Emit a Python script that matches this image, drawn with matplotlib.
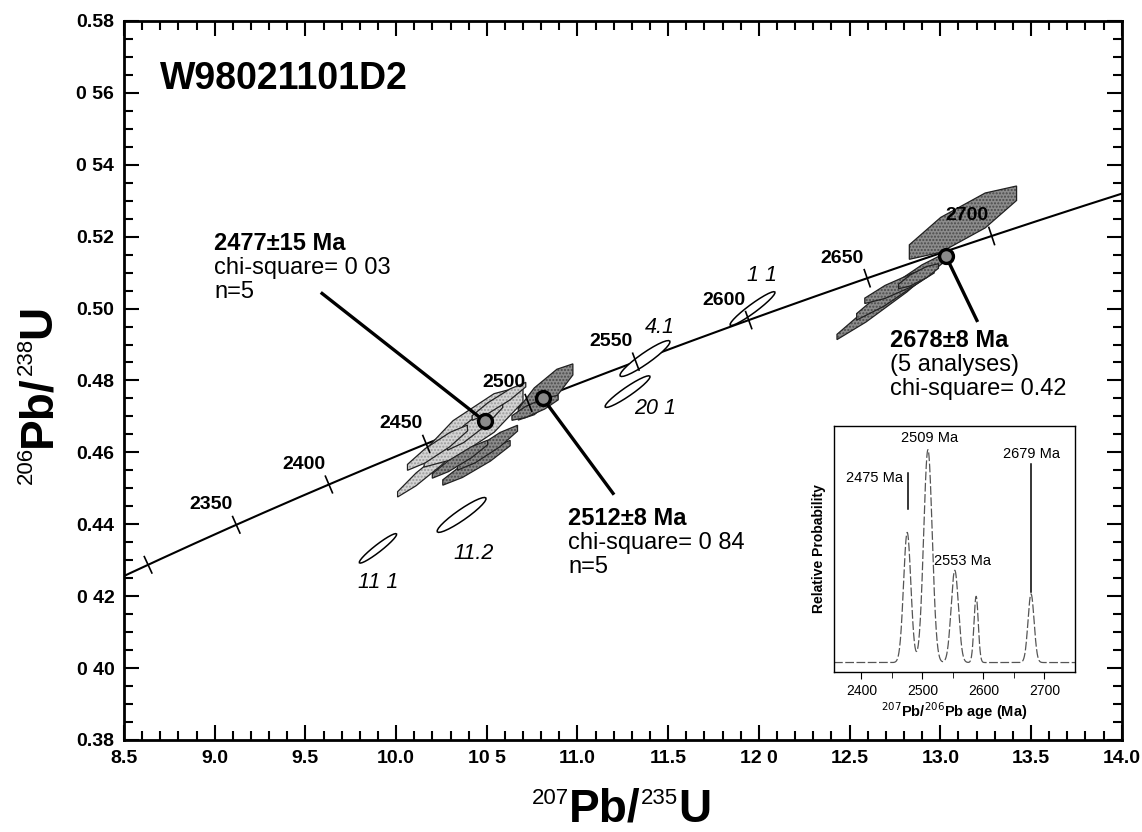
import numpy as np
import matplotlib.pyplot as plt
from matplotlib.patches import Polygon

plt.rcParams['font.family'] = ['Liberation Sans', 'DejaVu Sans']

# decay constants (1/yr)
L235 = 9.8485e-10
L238 = 1.55125e-10

# open (white) analyses: centre, half-range in x and y, error correlation
open_x = [9.900, 10.361, 11.276, 11.372, 11.965]
open_y = [0.4333, 0.4426, 0.4769, 0.4861, 0.5000]
open_sx = [0.103, 0.135, 0.124, 0.138, 0.124]
open_sy = [0.0041, 0.00486, 0.0044, 0.0050, 0.0047]
open_rho = [0.95, 0.93, 0.94, 0.93, 0.95]
open_names = ['11 1', '11.2', '20 1', '4.1', '1 1']
name_x = [9.900, 10.429, 11.427, 11.455, 12.017]
name_y = [0.4239, 0.4319, 0.4722, 0.4947, 0.5092]

# 2477 Ma group (light)
lt_x = [10.181, 10.427, 10.435, 10.567, 10.228]
lt_y = [0.4554, 0.4672, 0.4675, 0.4742, 0.4613]
lt_sx = [0.187, 0.295, 0.165, 0.160, 0.179]
lt_sy = [0.0079, 0.0114, 0.0069, 0.0053, 0.0063]
lt_rho = [0.97, 0.86, 0.93, 0.95, 0.94]

# 2512 Ma group (dark)
dk_x = [10.824, 10.443, 10.504, 10.352, 10.766]
dk_y = [0.4768, 0.4571, 0.4613, 0.4581, 0.4724]
dk_sx = [0.163, 0.201, 0.179, 0.165, 0.138]
dk_sy = [0.0079, 0.00625, 0.00625, 0.0053, 0.0035]
dk_rho = [0.86, 0.95, 0.94, 0.95, 0.88]

# 2678 Ma group (dark)
old_x = [13.125, 12.703, 12.794, 12.775, 12.880]
old_y = [0.5239, 0.5022, 0.5064, 0.5064, 0.5090]
old_sx = [0.320, 0.295, 0.276, 0.207, 0.119]
old_sy = [0.0103, 0.0111, 0.0097, 0.0050, 0.0035]
old_rho = [0.86, 0.985, 0.97, 0.92, 0.88]

# weighted means
mean_x = [10.49, 10.81, 13.03]
mean_y = [0.4686, 0.4750, 0.5147]
mean_lead_x = [9.592, 11.196, 13.202]
mean_lead_y = [0.5042, 0.4486, 0.4967]
mean_text_x = [8.996, 10.948, 12.723]
mean_text_top = [0.5181, 0.4417, 0.4911]
mean_lines = [['2477±15 Ma', 'chi-square= 0 03', 'n=5'],
              ['2512±8 Ma', 'chi-square= 0 84', 'n=5'],
              ['2678±8 Ma', '(5 analyses)', 'chi-square= 0.42']]

# concordia age marks
conc_ages = [2300, 2350, 2400, 2450, 2500, 2550, 2600, 2650, 2700]
conc_labels = ['', '2350', '2400', '2450', '2500', '2550', '2600', '2650', '2700']

# axis ticks
x_ticks = [8.5, 9.0, 9.5, 10.0, 10.5, 11.0, 11.5, 12.0, 12.5, 13.0, 13.5, 14.0]
x_ticklabels = ['8.5', '9.0', '9.5', '10.0', '10 5', '11.0', '11.5', '12 0', '12.5', '13.0', '13.5', '14.0']
y_ticks = [0.38, 0.40, 0.42, 0.44, 0.46, 0.48, 0.50, 0.52, 0.54, 0.56, 0.58]
y_ticklabels = ['0.38', '0 40', '0 42', '0.44', '0.46', '0.48', '0.50', '0.52', '0 54', '0 56', '0.58']

# inset: probability peaks (age, relative height, sigma)
pk_age = [2475, 2509, 2553, 2588, 2678]
pk_h = [0.55, 0.90, 0.39, 0.28, 0.29]
pk_sig = [6.0, 7.0, 6.0, 3.5, 5.0]
pk_text = ['2475 Ma', '2509 Ma', '2553 Ma', '2679 Ma']
pk_text_x = [2422, 2511, 2565, 2679]
pk_text_y = [0.78, 0.95, 0.43, 0.88]


def concordia(t):
    return np.exp(L235 * t * 1e6) - 1, np.exp(L238 * t * 1e6) - 1


def err_shape(cx, cy, sx, sy, rho, n):
    th = np.linspace(0, 2 * np.pi, n, endpoint=False) + np.pi / n
    px = cx + sx * np.cos(th)
    py = cy + sy * (rho * np.cos(th) + np.sqrt(1 - rho ** 2) * np.sin(th))
    return np.column_stack([px, py])


fig = plt.figure(figsize=(11.42, 8.32), dpi=100)
ax = fig.add_axes([0.1086, 0.1106, 0.8736, 0.8642])
ax.set_xlim(8.5, 14.0)
ax.set_ylim(0.38, 0.58)

# concordia curve
t = np.linspace(2250, 2760, 400)
cx, cy = concordia(t)
ax.plot(cx, cy, color='k', lw=1.5, zorder=2)

# open analyses
for i in range(len(open_x)):
    pts = err_shape(open_x[i], open_y[i], open_sx[i], open_sy[i], open_rho[i], 28)
    ax.add_patch(Polygon(pts, closed=True, fc='white', ec='k', lw=1.1, zorder=3))
    ax.text(name_x[i], name_y[i], open_names[i], fontsize=15.5, style='italic',
            ha='center', va='center', zorder=6)


def draw_group(xs, ys, sxs, sys_, rhos, fc, hc):
    for i in range(len(xs)):
        pts = err_shape(xs[i], ys[i], sxs[i], sys_[i], rhos[i], 8)
        ax.add_patch(Polygon(pts, closed=True, fc=fc, ec=hc, lw=0, hatch='.....', zorder=3))
        ax.add_patch(Polygon(pts, closed=True, fc='none', ec='#222222', lw=0.9, zorder=3))


draw_group(lt_x, lt_y, lt_sx, lt_sy, lt_rho, '#d4d4d4', '#9a9a9a')
draw_group(dk_x, dk_y, dk_sx, dk_sy, dk_rho, '#8c8c8c', '#4a4a4a')
draw_group(old_x, old_y, old_sx, old_sy, old_rho, '#8c8c8c', '#4a4a4a')

# concordia age ticks and labels
for age, lab in zip(conc_ages, conc_labels):
    x0, y0 = concordia(age)
    x1, y1 = concordia(age + 1)
    p0 = ax.transData.transform((x0, y0))
    p1 = ax.transData.transform((x1, y1))
    d = (p1 - p0) / np.hypot(*(p1 - p0))
    nrm = np.array([-d[1], d[0]])
    a = ax.transData.inverted().transform(p0 + 9 * nrm)
    b = ax.transData.inverted().transform(p0 - 9 * nrm)
    ax.plot([a[0], b[0]], [a[1], b[1]], color='k', lw=1.2, zorder=4)
    if lab:
        ax.annotate(lab, (x0, y0), xytext=(-25, 20), textcoords='offset pixels',
                    fontsize=14, fontweight='bold', ha='center', va='center', zorder=6)

# weighted means with leader lines and text
for i in range(3):
    ax.plot([mean_lead_x[i], mean_x[i]], [mean_lead_y[i], mean_y[i]], color='k', lw=2.4, zorder=5)
    ax.plot(mean_x[i], mean_y[i], 'o', ms=10, mfc='#8a8a8a', mec='k', mew=2.4, zorder=6)
    for j, line in enumerate(mean_lines[i]):
        ax.text(mean_text_x[i], mean_text_top[i] - j * 0.0068, line, fontsize=17,
                fontweight='bold' if j == 0 else 'normal', ha='left', va='center', zorder=6)

ax.text(8.698, 0.5639, 'W98021101D2', fontsize=27, fontweight='bold', ha='left', va='center')

# ticks
ax.set_xticks(x_ticks)
ax.set_xticklabels(x_ticklabels)
ax.set_yticks(y_ticks)
ax.set_yticklabels(y_ticklabels)
ax.set_xticks(np.arange(8.6, 14.0, 0.1), minor=True)
ax.set_yticks(np.arange(0.385, 0.58, 0.005), minor=True)
ax.tick_params(which='both', direction='in', top=True, right=True, width=1.5)
ax.tick_params(which='major', length=11, pad=7, labelsize=14)
ax.tick_params(which='minor', length=6.5)
for lab in ax.get_xticklabels() + ax.get_yticklabels():
    lab.set_fontweight('bold')
for sp in ax.spines.values():
    sp.set_linewidth(2)


# axis titles built from pieces so superscripts stay small
def stacked_label(pieces, x, y, rot):
    prev = None
    for txt, size, bold in pieces:
        kw = dict(fontsize=size, fontweight='bold' if bold else 'normal',
                  annotation_clip=False, rotation=rot, rotation_mode='anchor')
        if prev is None:
            prev = ax.annotate(txt, (x, y), xycoords='figure pixels', ha='left', va='top', **kw)
        else:
            xy = (1, 1) if rot == 0 else (0, 1)
            prev = ax.annotate(txt, xy, xycoords=prev, ha='left', va='top', **kw)


stacked_label([('207', 16, False), ('Pb/', 33, True), ('235', 16, False), ('U', 33, True)],
              532, 832 - 788, 0)
stacked_label([('206', 16, False), ('Pb/', 33, True), ('238', 16, False), ('U', 33, True)],
              16, 832 - 484, 90)

# inset probability plot
ins = fig.add_axes([0.7303, 0.1923, 0.2110, 0.2957])
ages = np.linspace(2355, 2750, 1200)
prob = np.zeros_like(ages)
for a0, h, s in zip(pk_age, pk_h, pk_sig):
    prob += h * np.exp(-0.5 * ((ages - a0) / s) ** 2)
ins.plot(ages, prob, color='#555555', lw=0.9, ls=(0, (7, 2)))
ins.plot([2476, 2476], [0.65, 0.80], color='k', lw=1.1)
ins.plot([2678, 2678], [0.30, 0.84], color='k', lw=1.1)
for s, xx, yy in zip(pk_text, pk_text_x, pk_text_y):
    ins.text(xx, yy, s, fontsize=10.5, ha='center', va='center')
ins.set_xlim(2355, 2750)
ins.set_ylim(-0.04, 1.0)
ins.set_xticks([2400, 2500, 2600, 2700])
ins.set_xticks([2450, 2550, 2650], minor=True)
ins.set_yticks([])
ins.tick_params(which='both', direction='out', labelsize=10)
ins.tick_params(which='major', length=5)
ins.tick_params(which='minor', length=4)
ins.set_ylabel('Relative Probability', fontsize=10, fontweight='bold', labelpad=6)
ins.set_xlabel(r'$^{207}$Pb/$^{206}$Pb age (Ma)', fontsize=10.5, fontweight='bold', labelpad=2)
for sp in ins.spines.values():
    sp.set_linewidth(1)

fig.savefig('out.png', dpi=100)
